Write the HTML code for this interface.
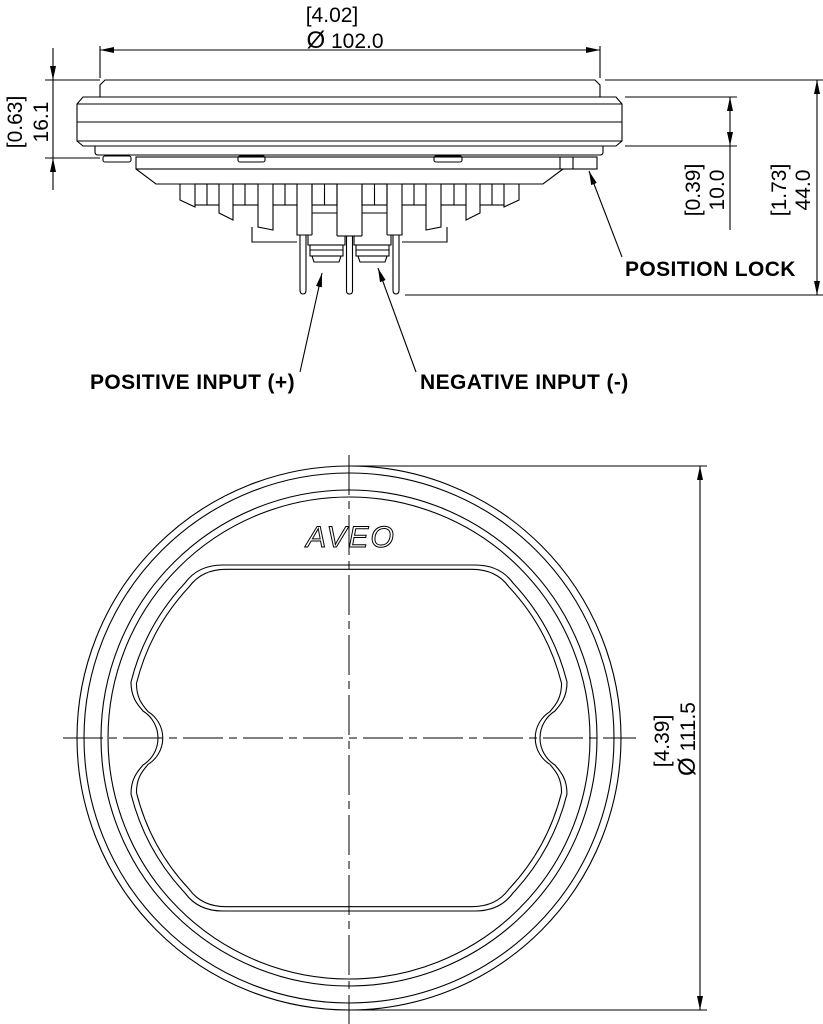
<!DOCTYPE html>
<html><head><meta charset="utf-8"><style>
html,body{margin:0;padding:0;background:#fff;}
svg{display:block;}
text{font-family:"Liberation Sans",sans-serif;fill:#000;}
.dim{font-size:21px;}
.lbl{font-size:21px;font-weight:bold;letter-spacing:0.4px;}
</style></head><body>
<svg width="823" height="1024" viewBox="0 0 823 1024" xmlns="http://www.w3.org/2000/svg">
<defs>
<marker id="ar" viewBox="0 0 14 6" refX="14" refY="3" markerWidth="14" markerHeight="6" markerUnits="userSpaceOnUse" orient="auto-start-reverse">
<path d="M0,0 L14,3 L0,6 Z" fill="#000"/>
</marker>
</defs>
<g fill="none" stroke="#000" stroke-width="1.1">
<line x1="100" y1="50" x2="600" y2="50" marker-start="url(#ar)" marker-end="url(#ar)"/>
<line x1="100" y1="46" x2="100" y2="78"/>
<line x1="600" y1="46" x2="600" y2="78"/>
<path d="M100,97 L100,85 L105,80 L595,80 L600,85 L600,97"/>
<path d="M77,104 L83,97 L616,97 L622,104 L622,141 L616,146 L83,146 L77,141 Z"/>
<line x1="77" y1="104" x2="622" y2="104"/>
<line x1="77" y1="122" x2="622" y2="122"/>
<line x1="77" y1="141" x2="622" y2="141"/>
<path d="M95,146 L95,152 Q95,155 98,155 L600,155 Q603,155 603,152 L603,146"/>
<rect x="103" y="156" width="28" height="6" rx="2"/>
<rect x="238" y="156" width="27" height="6" rx="2"/>
<rect x="434" y="156" width="28" height="6" rx="2"/>
<rect x="136" y="157" width="461" height="12"/>
<line x1="560" y1="157" x2="560" y2="169"/>
<line x1="573" y1="157" x2="573" y2="169"/>
<g id="hs">
<path d="M136,169 L156,184 L180,184 L180,200 L195,207 L195,205 L219,205 L219,213 L233,220 L233,205 L258,205 L258,227 L273,230 L273,205 L297,205 L297,235 L312,235"/>
<line x1="156" y1="184" x2="349.5" y2="184"/>
<rect x="195" y="184" width="24" height="21"/><line x1="207" y1="184" x2="207" y2="205"/>
<rect x="233" y="184" width="25" height="21"/><line x1="245" y1="184" x2="245" y2="205"/>
<rect x="273" y="184" width="24" height="21"/><line x1="285" y1="184" x2="285" y2="205"/>
<rect x="312" y="184" width="25" height="21"/><line x1="324.5" y1="184" x2="324.5" y2="205"/>
<line x1="312" y1="213" x2="337" y2="213"/>
<line x1="312" y1="184" x2="312" y2="235"/>
<line x1="337" y1="184" x2="337" y2="236"/>
<line x1="337" y1="236" x2="349.5" y2="236"/>
<path d="M252,227 L252,242 L297,242"/>
<path d="M300,235 L300,290 Q300,294 303,294 Q306,294 306,290 L306,235"/>
<path d="M308,235 L308,245 L345,245 L345,236"/>
<rect x="310" y="245" width="33" height="11"/>
<line x1="310" y1="250" x2="343" y2="250"/>
<path d="M312,256 L314,262 L339,262 L341,256"/>
</g>
<use href="#hs" transform="translate(699,0) scale(-1,1)"/>
<path d="M346.5,236 L346.5,291 Q346.5,294 349.5,294 Q352.5,294 352.5,291 L352.5,236"/>
<line x1="45" y1="80" x2="100" y2="80"/>
<line x1="45" y1="158" x2="100" y2="158"/>
<line x1="53" y1="48" x2="53" y2="80" marker-end="url(#ar)"/>
<line x1="53" y1="190" x2="53" y2="158" marker-end="url(#ar)"/>
<line x1="53" y1="80" x2="53" y2="158"/>
<line x1="605" y1="80" x2="823" y2="80"/>
<line x1="625" y1="97" x2="737" y2="97"/>
<line x1="625" y1="146" x2="737" y2="146"/>
<line x1="730" y1="97" x2="730" y2="146" marker-start="url(#ar)" marker-end="url(#ar)"/>
<line x1="730" y1="146" x2="730" y2="230"/>
<line x1="405" y1="295" x2="823" y2="295"/>
<line x1="817" y1="80" x2="817" y2="295" marker-start="url(#ar)" marker-end="url(#ar)"/>
<line x1="622" y1="257" x2="589" y2="171" marker-end="url(#ar)"/>
<line x1="300" y1="372" x2="322" y2="273" marker-end="url(#ar)"/>
<line x1="416" y1="372" x2="378" y2="268" marker-end="url(#ar)"/>

<circle cx="349" cy="738" r="272"/>
<circle cx="349" cy="738" r="265"/>
<circle cx="349" cy="738" r="248"/>
<circle cx="349" cy="738" r="241"/>
<g id="shape">
<path d="M223,565 L475,565 Q500,565 513,583 A225,225 0 0 1 567,682 C567,698 560,705 555,711 A31.8,31.8 0 0 0 555,765 C560,771 567,778 567,794 A225,225 0 0 1 513,893 Q500,911 475,911 L223,911 Q198,911 185,893 A225,225 0 0 1 131,794 C131,778 138,771 143,765 A31.8,31.8 0 0 0 143,711 C138,705 131,698 131,682 A225,225 0 0 1 185,583 Q198,565 223,565 Z"/>
</g>
<use href="#shape" transform="translate(349,738) scale(0.975) translate(-349,-738)"/>
<line x1="349" y1="455" x2="349" y2="1024" stroke-width="1" stroke-dasharray="40,6,8,6"/>
<line x1="63" y1="738" x2="636" y2="738" stroke-width="1" stroke-dasharray="40,6,8,6"/>
<line x1="352" y1="466" x2="707" y2="466" stroke-width="1"/>
<line x1="352" y1="1010" x2="707" y2="1010" stroke-width="1"/>
<line x1="700" y1="466" x2="700" y2="1010" marker-start="url(#ar)" marker-end="url(#ar)"/>
</g>
<text x="351" y="547" text-anchor="middle" font-size="30" font-style="italic" stroke="#000" stroke-width="1" style="font-family:'Liberation Sans',sans-serif;fill:none;letter-spacing:2px">AVEO</text>

<text class="dim" x="332" y="22" text-anchor="middle">[4.02]</text>
<text class="dim" x="345" y="48" text-anchor="middle"><tspan font-size="24">Ø</tspan> 102.0</text>
<text class="dim" transform="translate(22,122) rotate(-90)" text-anchor="middle">[0.63]</text>
<text class="dim" transform="translate(48,122) rotate(-90)" text-anchor="middle">16.1</text>
<text class="dim" transform="translate(700,190) rotate(-90)" text-anchor="middle">[0.39]</text>
<text class="dim" transform="translate(724,190) rotate(-90)" text-anchor="middle">10.0</text>
<text class="dim" transform="translate(786,190) rotate(-90)" text-anchor="middle">[1.73]</text>
<text class="dim" transform="translate(810,190) rotate(-90)" text-anchor="middle">44.0</text>
<text class="dim" transform="translate(669,741) rotate(-90)" text-anchor="middle">[4.39]</text>
<text class="dim" transform="translate(695,739) rotate(-90)" text-anchor="middle"><tspan font-size="24">Ø</tspan> 111.5</text>
<text class="lbl" x="90" y="389">POSITIVE INPUT (+)</text>
<text class="lbl" x="420" y="389">NEGATIVE INPUT (-)</text>
<text class="lbl" x="625" y="276">POSITION LOCK</text>
</svg>
</body></html>
